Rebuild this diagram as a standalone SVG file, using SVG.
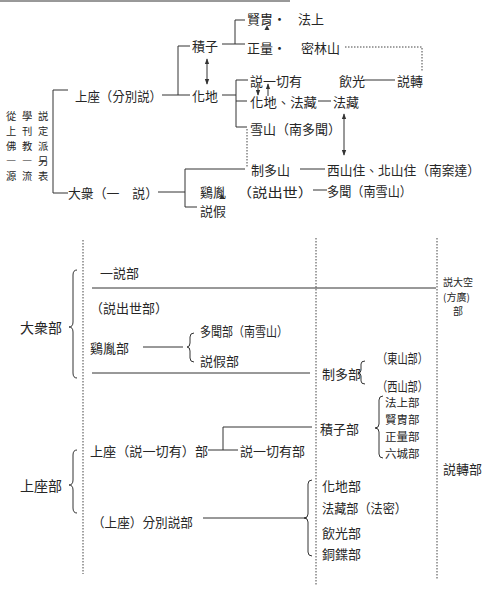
<svg xmlns="http://www.w3.org/2000/svg" width="496" height="606" viewBox="0 0 496 606">
<style>
.t{font-family:"Noto Sans CJK TC","Noto Sans CJK SC","Noto Sans CJK JP",sans-serif;font-size:13px;fill:#262626;dominant-baseline:central}
.b{font-size:14px}
.s{font-size:11.5px}
.ti{font-size:10.3px}
.dk{font-size:10px}
.ln{stroke:#333;stroke-width:1;fill:none}
.dt{stroke:#444;stroke-width:1;stroke-dasharray:1.5 1.5;fill:none}
.ar{stroke:#333;stroke-width:1;fill:none;marker-start:url(#ah);marker-end:url(#ah)}
.a1{stroke:#333;stroke-width:1;fill:none;marker-end:url(#ah)}
</style>
<defs>
<marker id="ah" viewBox="0 0 8 8" refX="7" refY="4" markerWidth="6" markerHeight="6" orient="auto-start-reverse" markerUnits="userSpaceOnUse">
<path d="M0 1 L8 4 L0 7 Z" fill="#333"/>
</marker>
</defs>
<rect width="496" height="606" fill="#fff"/>

<g id="connectors">
<path class="ln" d="M0 1 H290" stroke="#999"/>
<path class="ln" d="M68 90 H53 V193 H68"/>
<path class="ln" d="M162 95 H190 M178 95 V46 H190"/>
<path class="ln" d="M222 44 H245 M235 44 V20 H245"/>
<path class="ar" d="M207 59 V84"/>
<path class="ln" d="M222 95 H236 M248 80 H236 V127 H247 M236 101 H247"/>
<path class="dt" d="M247 129 V168"/>
<path class="ln" d="M158 192 H185 M245 169 H185 V207 H197"/>
<path class="dt" d="M345 47 H422 V72"/>
<path class="ln" d="M363 80 H395"/>
<path class="ln" d="M318 101 H331"/>
<path class="ln" d="M300 169 H325"/>
<path class="ln" d="M313 190 H327"/>
<path class="ar" d="M344 114 V155"/>
<path class="a1" d="M258 84 V95"/>
<path class="a1" d="M268 96 V84"/>
<path d="M264.5 30 L267 25 L269.5 30 Z M219.5 199 L222 194 L224.5 199 Z" fill="#333"/>

<path class="dt" d="M83 240 V574 M316 238 V585 M437 238 V580"/>
<path class="ln" d="M92 288 H436"/>
<path class="ln" d="M92 373 H310"/>
<path class="ln" d="M143 347 H183"/>
<path class="ln" d="M208 450 H238 M223 450 V427 H312"/>
<path class="ln" d="M203 518 H307"/>
<path class="ln" d="M77 270 Q73 270 73 275 V322 Q73 327 69 327 Q73 327 73 332 V373 Q73 378 77 378"/>
<path class="ln" d="M77 450 Q73 450 73 455 V480 Q73 485 69 485 Q73 485 73 490 V508 Q73 513 77 513"/>
<path class="ln" d="M194 333 Q190 333 190 337 V343 Q190 347 187 347 Q190 347 190 351 V358 Q190 362 194 362"/>
<path class="ln" d="M365 361 Q361 361 361 364 V370 Q361 373 358 373 Q361 373 361 376 V381 Q361 384 365 384"/>
<path class="ln" d="M383 396 Q379 396 379 400 V424 Q379 428 375 428 Q379 428 379 432 V454 Q379 458 383 458"/>
<path class="ln" d="M312 480 Q308 480 308 484 V514 Q308 518 304 518 Q308 518 308 522 V552 Q308 556 312 556"/>
</g>

<g id="title">
<text class="t ti" x="6 22 38" y="115.5">從學説</text>
<text class="t ti" x="6 22 38" y="130.5">上刊定</text>
<text class="t ti" x="6 22 38" y="145.5">佛教派</text>
<text class="t ti" x="6 22 38" y="160.5">――另</text>
<text class="t ti" x="6 22 38" y="175.5">源流表</text>
</g>
<g id="n-shangzuo"><text class="t" x="75" y="95" textLength="87" lengthAdjust="spacingAndGlyphs">上座（分別説）</text></g>
<g id="n-dazhong"><text class="t" x="68" y="192" textLength="90" lengthAdjust="spacingAndGlyphs">大衆（一　説）</text></g>
<g id="n-jizi"><text class="t" x="192" y="45">積子</text></g>
<g id="n-huadi"><text class="t" x="192" y="95">化地</text></g>
<g id="n-xianzhou"><text class="t" x="247" y="18">賢胄・</text><text class="t" x="298" y="18">法上</text></g>
<g id="n-zhengliang"><text class="t" x="247" y="47">正量・</text><text class="t" x="301" y="47">密林山</text></g>
<g id="n-shuoyiqieyou"><text class="t" x="250" y="80">説一切有</text></g>
<g id="n-yinguang"><text class="t" x="339" y="80">飲光</text></g>
<g id="n-shuozhuan"><text class="t" x="397" y="80">説轉</text></g>
<g id="n-huadifazang"><text class="t" x="250" y="101" textLength="67" lengthAdjust="spacingAndGlyphs">化地、法藏</text></g>
<g id="n-fazang"><text class="t" x="333" y="101">法藏</text></g>
<g id="n-xueshan"><text class="t" x="250" y="128" textLength="91" lengthAdjust="spacingAndGlyphs">雪山（南多聞）</text></g>
<g id="n-zhiduoshan"><text class="t" x="251" y="169">制多山</text></g>
<g id="n-xishan"><text class="t" x="327" y="169" textLength="153" lengthAdjust="spacingAndGlyphs">西山住、北山住（南案達）</text></g>
<g id="n-jiyin"><text class="t" x="200" y="191">鷄胤</text><text class="t" x="237" y="191" textLength="76" lengthAdjust="spacingAndGlyphs">（説出世）</text></g>
<g id="n-duowen"><text class="t" x="327" y="190" textLength="85" lengthAdjust="spacingAndGlyphs">多聞（南雪山）</text></g>
<g id="n-shuojia"><text class="t" x="200" y="210">説假</text></g>

<g id="b-yishuo"><text class="t" x="100" y="272">一説部</text></g>
<g id="b-shuochushi"><text class="t" x="90" y="307" textLength="78" lengthAdjust="spacingAndGlyphs">（説出世部）</text></g>
<g id="b-dazhong"><text class="t b" x="20" y="327">大衆部</text></g>
<g id="b-jiyin"><text class="t" x="90" y="347">鷄胤部</text></g>
<g id="b-duowen"><text class="t" x="200" y="330" textLength="88" lengthAdjust="spacingAndGlyphs">多聞部（南雪山）</text></g>
<g id="b-shuojia"><text class="t" x="200" y="360">説假部</text></g>
<g id="b-zhiduo"><text class="t" x="322" y="373">制多部</text></g>
<g id="b-dongshan"><text class="t" x="377" y="357" textLength="51" lengthAdjust="spacingAndGlyphs">（東山部）</text></g>
<g id="b-xishan"><text class="t" x="377" y="385" textLength="51" lengthAdjust="spacingAndGlyphs">（西山部）</text></g>
<g id="b-jizi"><text class="t" x="320" y="428">積子部</text></g>
<g id="b-fashang"><text class="t s" x="385" y="402">法上部</text></g>
<g id="b-xianzhou"><text class="t s" x="385" y="419">賢胄部</text></g>
<g id="b-zhengliang"><text class="t s" x="385" y="436">正量部</text></g>
<g id="b-liucheng"><text class="t s" x="385" y="453">六城部</text></g>
<g id="b-shangzuo-sarva"><text class="t" x="90" y="450" textLength="118" lengthAdjust="spacingAndGlyphs">上座（説一切有）部</text></g>
<g id="b-sarva"><text class="t" x="240" y="450">説一切有部</text></g>
<g id="b-dakong"><text class="t dk" x="443" y="281.5">説大空</text><text class="t dk" x="443" y="296">(方廣)</text><text class="t dk" x="453" y="310.5">部</text></g>
<g id="b-shuozhuan"><text class="t" x="443" y="468">説轉部</text></g>
<g id="b-shangzuo"><text class="t b" x="20" y="485">上座部</text></g>
<g id="b-fenbie"><text class="t" x="92" y="521" textLength="101" lengthAdjust="spacingAndGlyphs">（上座）分別説部</text></g>
<g id="b-huadi"><text class="t" x="322" y="485">化地部</text></g>
<g id="b-fazang"><text class="t" x="322" y="507" textLength="85" lengthAdjust="spacingAndGlyphs">法藏部（法密）</text></g>
<g id="b-yinguang"><text class="t" x="322" y="532">飲光部</text></g>
<g id="b-tongye"><text class="t" x="322" y="553">銅鍱部</text></g>
</svg>
